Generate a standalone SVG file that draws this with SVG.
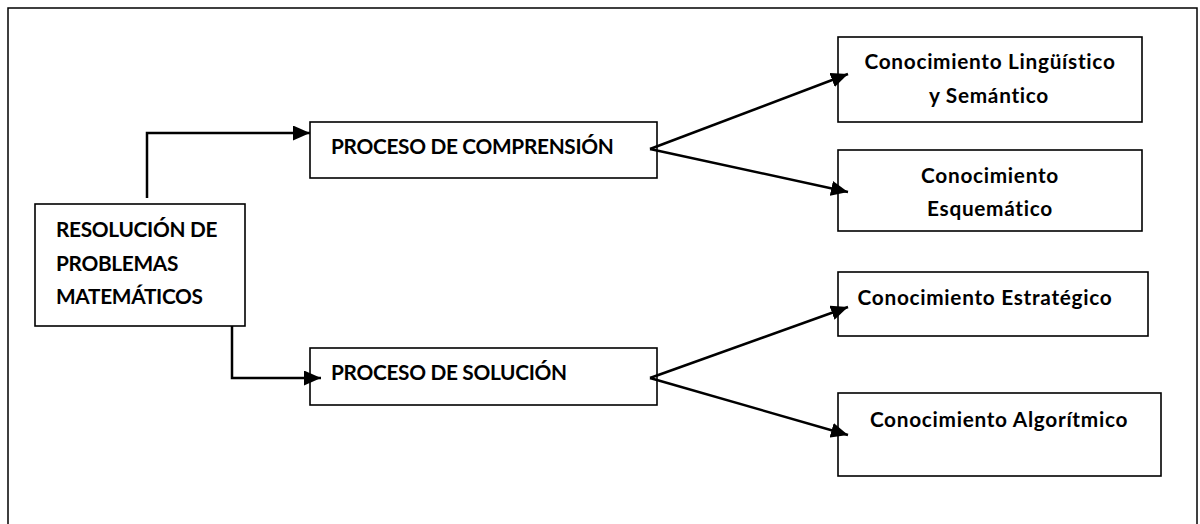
<svg xmlns="http://www.w3.org/2000/svg" width="1200" height="524" viewBox="0 0 1200 524">
  <style>
    .box { fill: #ffffff; stroke: #000000; stroke-width: 1.6; }
    .frame { fill: none; stroke: #000000; stroke-width: 1.5; }
    .edge { fill: none; stroke: #000000; stroke-width: 2.5; }
    .lbl { font-family: Lato, "Liberation Sans", sans-serif; font-weight: bold; font-size: 20.8px; fill: #000000; }
    .caps { letter-spacing: -0.3px; }
    .low { letter-spacing: 0.7px; }
    .mid { text-anchor: middle; }
  </style>
  <defs>
    <marker id="arrow" viewBox="0 0 17 15" refX="17" refY="7.5" markerWidth="17" markerHeight="15" markerUnits="userSpaceOnUse" orient="auto">
      <path d="M0,0 L17,7.5 L0,15 Z" fill="#000000"/>
    </marker>
  </defs>
  <rect width="1200" height="524" fill="#ffffff"/>
  <rect class="frame" x="8" y="8" width="1189" height="530"/>

  <g id="n-resolucion">
    <rect class="box" x="35" y="204" width="210" height="122"/>
    <text class="lbl caps" x="56" y="237">RESOLUCIÓN DE</text>
    <text class="lbl caps" x="56" y="271">PROBLEMAS</text>
    <text class="lbl caps" x="56" y="304">MATEMÁTICOS</text>
  </g>
  <g id="n-comprension">
    <rect class="box" x="310" y="122" width="347" height="56"/>
    <text class="lbl caps" x="331" y="154">PROCESO DE COMPRENSIÓN</text>
  </g>
  <g id="n-solucion">
    <rect class="box" x="310" y="348" width="347" height="57"/>
    <text class="lbl caps" x="331" y="380">PROCESO DE SOLUCIÓN</text>
  </g>
  <g id="n-linguistico">
    <rect class="box" x="838" y="37" width="304" height="85"/>
    <text class="lbl low mid" x="990" y="69">Conocimiento Lingüístico</text>
    <text class="lbl low mid" x="989" y="103">y Semántico</text>
  </g>
  <g id="n-esquematico">
    <rect class="box" x="838" y="150" width="304" height="81"/>
    <text class="lbl low mid" x="990" y="183">Conocimiento</text>
    <text class="lbl low mid" x="990" y="216">Esquemático</text>
  </g>
  <g id="n-estrategico">
    <rect class="box" x="838" y="272" width="310" height="64"/>
    <text class="lbl low mid" x="985" y="305">Conocimiento Estratégico</text>
  </g>
  <g id="n-algoritmico">
    <rect class="box" x="838" y="393" width="323" height="83"/>
    <text class="lbl low mid" x="999" y="427">Conocimiento Algorítmico</text>
  </g>

  <g id="connectors">
    <path class="edge" d="M147,198 V133 H310" marker-end="url(#arrow)"/>
    <path class="edge" d="M232,326 V378 H321" marker-end="url(#arrow)"/>
    <path class="edge" d="M650,149 L848,74" marker-end="url(#arrow)"/>
    <path class="edge" d="M650,149 L848,192" marker-end="url(#arrow)"/>
    <path class="edge" d="M650,378 L848,307" marker-end="url(#arrow)"/>
    <path class="edge" d="M650,378 L848,435" marker-end="url(#arrow)"/>
  </g>
</svg>
